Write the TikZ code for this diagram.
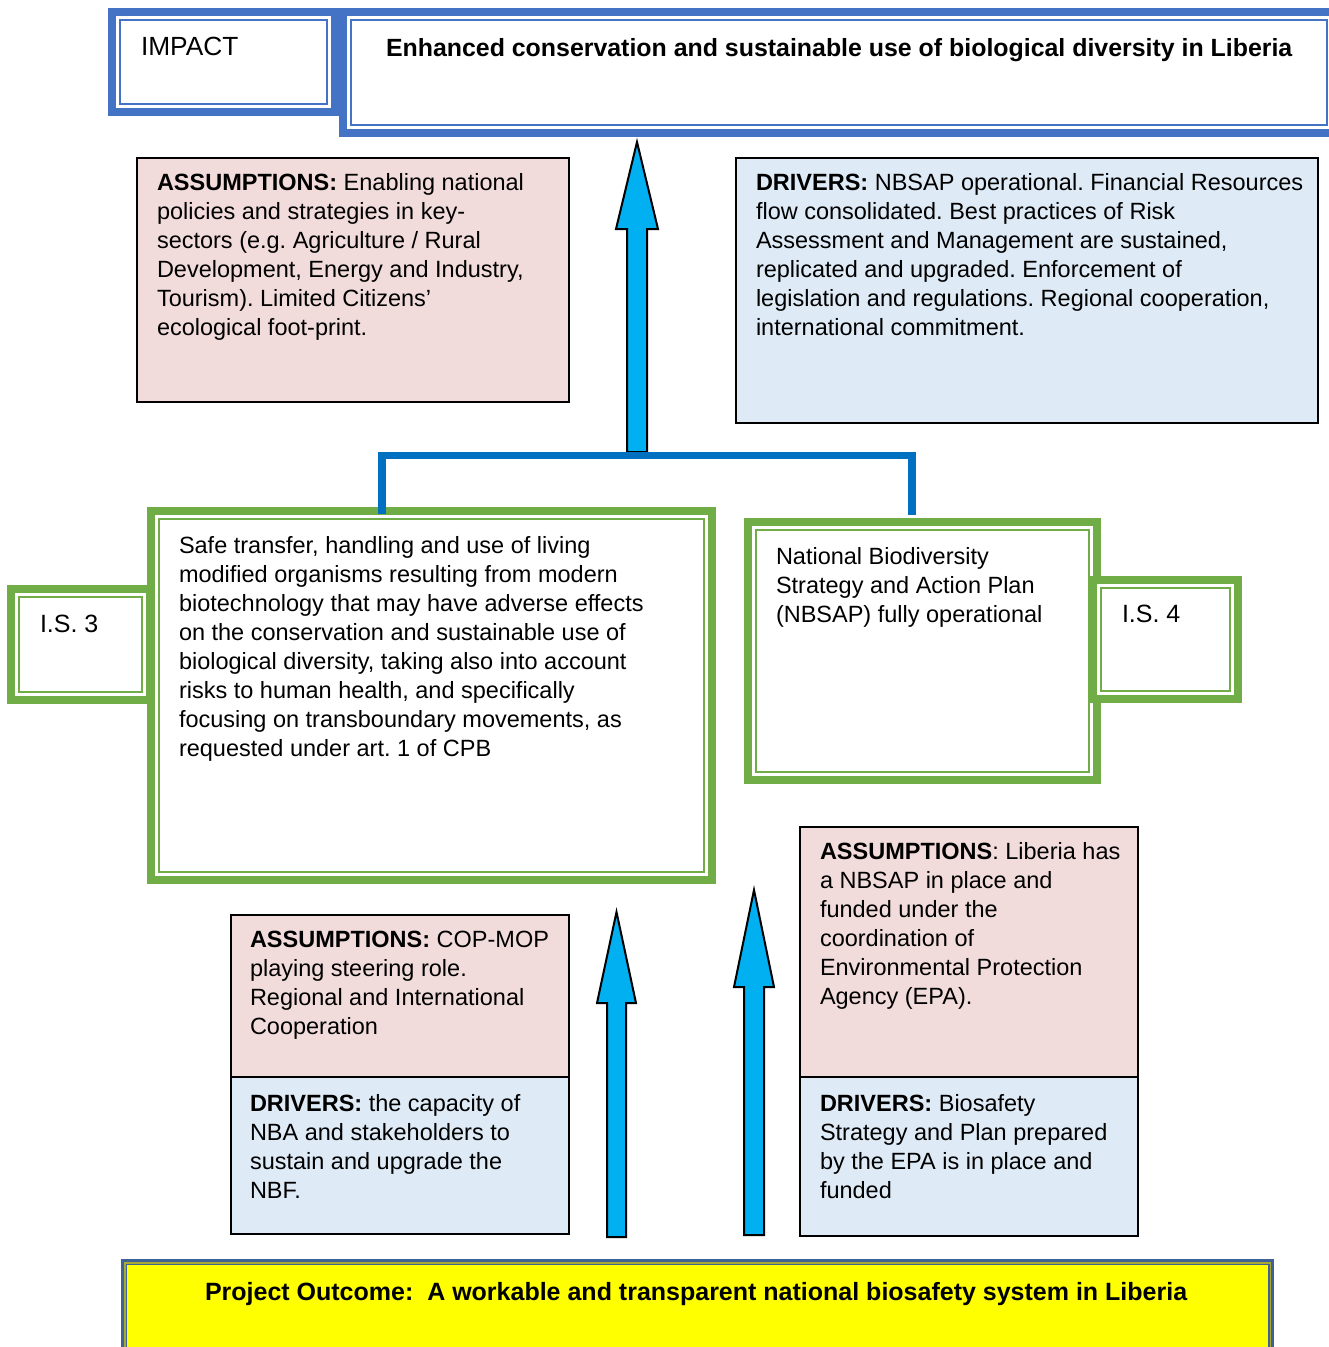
\documentclass[tikz,border=0pt]{standalone}
\usepackage{fontspec}
\setmainfont{Liberation Sans}
\frenchspacing
\definecolor{frameblue}{HTML}{4472C4}
\definecolor{grn}{HTML}{70AD47}
\definecolor{pinkc}{HTML}{F2DCDB}
\definecolor{bluec}{HTML}{DEEAF6}
\definecolor{brk}{HTML}{0070C0}
\definecolor{arrowc}{HTML}{00B0F0}
\definecolor{outblue}{HTML}{3F6296}
\definecolor{olivec}{HTML}{A8A832}
\definecolor{yel}{HTML}{FFFF00}
\tikzset{
  txt/.style={anchor=north west, inner sep=0pt, outer sep=0pt, align=left, font=\fontsize{23.5}{29}\selectfont\frenchspacing},
  headtxt/.style={txt, font=\fontsize{24.9}{29}\selectfont\bfseries},
  labtxt/.style={txt, font=\fontsize{25}{29}\selectfont},
  arrowsty/.style={draw=black, line width=2pt, fill=arrowc, line join=miter},
}
% double frame box: name, colour, x1, y1, x2, y2 (outer edges)
\newcommand\dblframe[6]{%
  \node[draw=#2, line width=8pt, fill=white, inner sep=0pt, outer sep=0pt,
        minimum width={#5-#3-8}, minimum height={#6-#4-8}, anchor=north west] (#1) at (#3+4,#4+4) {};
  \draw[#2, line width=2pt] ([xshift=8pt,yshift=-8pt]#1.north west) rectangle ([xshift=-8pt,yshift=8pt]#1.south east);}
% plain box: name, fill, x1, y1, x2, y2
\newcommand\plainframe[6]{%
  \node[draw=black, line width=2pt, fill=#2, inner sep=0pt, outer sep=0pt,
        minimum width={#5-#3-2}, minimum height={#6-#4-2}, anchor=north west] (#1) at (#3+1,#4+1) {};}
% block arrow: x, tip y, head base y, bottom y, head half width, shaft half width
\newcommand\blockarrow[6]{%
  \draw[arrowsty] (#1,#2) -- (#1+#5,#3) -- (#1+#6,#3) -- (#1+#6,#4) -- (#1-#6,#4) -- (#1-#6,#3) -- (#1-#5,#3) -- cycle;}
\begin{document}
\begin{tikzpicture}[x=1pt,y=-1pt]
\useasboundingbox (0,0) rectangle (1329,1347);
\clip (0,0) rectangle (1329,1347);
\fill[white] (0,0) rectangle (1329,1347);

% ---- top: impact
\dblframe{impact}{frameblue}{108}{8}{339}{116}
\dblframe{title}{frameblue}{339}{8}{1339}{137}
\node[txt, font=\fontsize{26.3}{29}\selectfont] (impacttxt) at (141,37) {IMPACT};
\node[headtxt] (titletxt) at (386,38) {Enhanced conservation and sustainable use of biological diversity in Liberia};

% ---- upper assumption / driver boxes
\plainframe{assum1}{pinkc}{136}{157}{570}{403}
\node[txt] (assum1txt) at (157,173) {\textbf{ASSUMPTIONS:} Enabling national\\policies and strategies in key-\\sectors (e.g. Agriculture / Rural\\Development, Energy and Industry,\\Tourism). Limited Citizens’\\ecological foot-print.};
\plainframe{driv1}{bluec}{735}{157}{1319}{424}
\node[txt] (driv1txt) at (756,173) {\textbf{DRIVERS:} NBSAP operational. Financial Resources\\flow consolidated. Best practices of Risk\\Assessment and Management are sustained,\\replicated and upgraded. Enforcement of\\legislation and regulations. Regional cooperation,\\international commitment.};

% ---- top arrow
\blockarrow{637}{142}{229}{452}{21}{10}

% ---- intermediate states
\dblframe{is3}{grn}{7}{585}{154}{704}
\node[labtxt] (is3txt) at (40,615) {I.S. 3};
\dblframe{state3}{grn}{147}{507}{716}{884}
\node[txt] (state3txt) at (179,536) {Safe transfer, handling and use of living\\modified organisms resulting from modern\\biotechnology that may have adverse effects\\on the conservation and sustainable use of\\biological diversity, taking also into account\\risks to human health, and specifically\\focusing on transboundary movements, as\\requested under art. 1 of CPB};
\dblframe{state4}{grn}{744}{518}{1101}{784}
\node[txt] (state4txt) at (776,547) {National Biodiversity\\Strategy and Action Plan\\(NBSAP) fully operational};
\dblframe{is4}{grn}{1089}{576}{1242}{703}
\node[labtxt] (is4txt) at (1122,605) {I.S. 4};

% ---- bracket
\coordinate (bl) at (382,514);
\coordinate (br) at (912,515);
\draw[brk, line width=7.5pt, line join=miter] (bl) -- (382,455.5) -- (912,455.5) -- (br);

% ---- lower assumption / driver boxes
\plainframe{assum2}{pinkc}{230}{914}{570}{1078}
\plainframe{driv2}{bluec}{230}{1076}{570}{1235}
\node[txt] (assum2txt) at (250,931) {\textbf{ASSUMPTIONS:} COP-MOP\\playing steering role.\\Regional and International\\Cooperation};
\node[txt] (driv2txt) at (250,1094) {\textbf{DRIVERS:} the capacity of\\NBA and stakeholders to\\sustain and upgrade the\\NBF.};
\plainframe{assum3}{pinkc}{799}{826}{1139}{1078}
\plainframe{driv3}{bluec}{799}{1076}{1139}{1237}
\node[txt] (assum3txt) at (820,842) {\textbf{ASSUMPTIONS}: Liberia has\\a NBSAP in place and\\funded under the\\coordination of\\Environmental Protection\\Agency (EPA).};
\node[txt] (driv3txt) at (820,1094) {\textbf{DRIVERS:} Biosafety\\Strategy and Plan prepared\\by the EPA is in place and\\funded};

% ---- lower arrows
\blockarrow{616.5}{912}{1003}{1237}{19.5}{9.5}
\blockarrow{754}{890}{987}{1235}{20}{10}

% ---- project outcome
\node[fill=yel, draw=outblue, line width=3pt, inner sep=0pt, outer sep=0pt,
      minimum width=1150, minimum height=120, anchor=north west] (outcome) at (122.5,1260.5) {};
\draw[olivec, line width=1.5pt] ([xshift=2.25pt,yshift=-2.25pt]outcome.north west) rectangle ([xshift=-2.25pt,yshift=2.25pt]outcome.south east);
\draw[outblue, line width=1.5pt] ([xshift=3.75pt,yshift=-3.75pt]outcome.north west) rectangle ([xshift=-3.75pt,yshift=3.75pt]outcome.south east);
\node[headtxt, font=\fontsize{25}{29}\selectfont\bfseries] (outcometxt) at (205,1282) {Project Outcome:\ \ A workable and transparent national biosafety system in Liberia};
\end{tikzpicture}
\end{document}
